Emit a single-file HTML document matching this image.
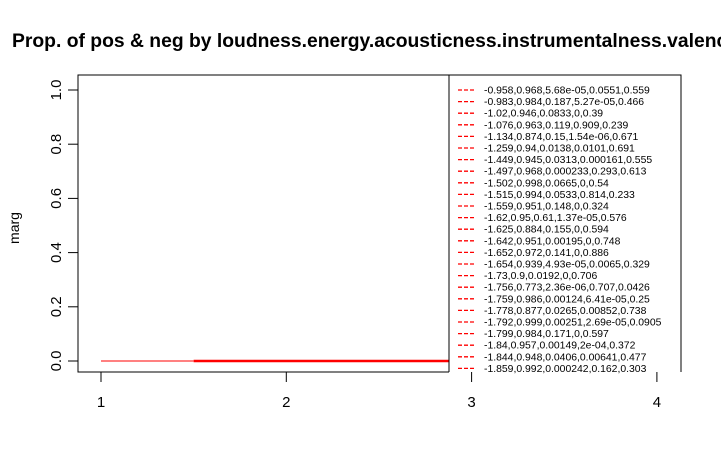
<!DOCTYPE html>
<html><head><meta charset="utf-8"><style>body{margin:0;background:#fff;overflow:hidden}svg{display:block;font-family:"Liberation Sans",Arial,sans-serif}</style></head>
<body>
<svg id="chart" width="721" height="470">
<text x="12" y="47" font-size="19" font-weight="bold" textLength="726" lengthAdjust="spacingAndGlyphs">Prop. of pos &amp; neg by loudness.energy.acousticness.instrumentalness.valence</text>
<g id="plot"></g>
</svg>
<script>
const xTicks=[1,2,3,4];
const yTicks=[0,0.2,0.4,0.6,0.8,1.0];
const yTickLabels=["0.0","0.2","0.4","0.6","0.8","1.0"];
const lineXStart=[1,1.5];
const lineXEnd=[1.5,3.0];
const lineY=[0,0];
const lineWidth=[1,2.5];
const legendLabels=["-0.958,0.968,5.68e-05,0.0551,0.559","-0.983,0.984,0.187,5.27e-05,0.466","-1.02,0.946,0.0833,0,0.39","-1.076,0.963,0.119,0.909,0.239","-1.134,0.874,0.15,1.54e-06,0.671","-1.259,0.94,0.0138,0.0101,0.691","-1.449,0.945,0.0313,0.000161,0.555","-1.497,0.968,0.000233,0.293,0.613","-1.502,0.998,0.0665,0,0.54","-1.515,0.994,0.0533,0.814,0.233","-1.559,0.951,0.148,0,0.324","-1.62,0.95,0.61,1.37e-05,0.576","-1.625,0.884,0.155,0,0.594","-1.642,0.951,0.00195,0,0.748","-1.652,0.972,0.141,0,0.886","-1.654,0.939,4.93e-05,0.0065,0.329","-1.73,0.9,0.0192,0,0.706","-1.756,0.773,2.36e-06,0.707,0.0426","-1.759,0.986,0.00124,6.41e-05,0.25","-1.778,0.877,0.0265,0.00852,0.738","-1.792,0.999,0.00251,2.69e-05,0.0905","-1.799,0.984,0.171,0,0.597","-1.84,0.957,0.00149,2e-04,0.372","-1.844,0.948,0.0406,0.00641,0.477","-1.859,0.992,0.000242,0.162,0.303"];
const NS="http://www.w3.org/2000/svg";
const g=document.getElementById('plot');
const X=v=>101+(v-1)*185.3;
const Y=v=>361-v*271;
function mk(t,a,txt){const e=document.createElementNS(NS,t);for(const k in a)e.setAttribute(k,a[k]);if(txt!=null)e.textContent=txt;g.appendChild(e);return e;}
let e;
for(let i=0;i<lineXStart.length;i++){
 e=mk('line',{x1:X(lineXStart[i]),x2:X(lineXEnd[i]),y1:Y(lineY[i]),y2:Y(lineY[i]),stroke:'red','stroke-width':lineWidth[i]});
 
 
}
e=mk('path',{d:'M449,372 H78 V75 H681 V372',fill:'none',stroke:'#000'});


xTicks.forEach(t=>{
 e=mk('line',{x1:X(t),x2:X(t),y1:372,y2:382,stroke:'#000'});
 
 
 e=mk('text',{x:X(t),y:407,'font-size':15,'text-anchor':'middle'},String(t));
 
 
});
yTicks.forEach((t,i)=>{
 e=mk('line',{x1:68,x2:78,y1:Y(t),y2:Y(t),stroke:'#000'});
 
 
 e=mk('text',{x:0,y:0,'font-size':15,'text-anchor':'middle',transform:`translate(61,${Y(t)}) rotate(-90)`},yTickLabels[i]);
 
 
});
e=mk('text',{x:0,y:0,'font-size':14,'text-anchor':'middle',transform:'translate(19,228) rotate(-90)'},'marg');


e=mk('rect',{x:449,y:75,width:232,height:297,fill:'#fff',stroke:'none'});


e=mk('path',{d:'M449,372 V75 H681 V372',fill:'none',stroke:'#000'});


legendLabels.forEach((l,i)=>{
 const y=90+i*11.6;
 if(y>372)return;
 e=mk('line',{x1:458,x2:476,y1:y,y2:y,stroke:'#f00','stroke-width':1.3,'stroke-dasharray':'4,2'});
 
 
 e=mk('text',{x:484,y:y+3.5,'font-size':10.4},l);
 
 
});
</script>
</body></html>
